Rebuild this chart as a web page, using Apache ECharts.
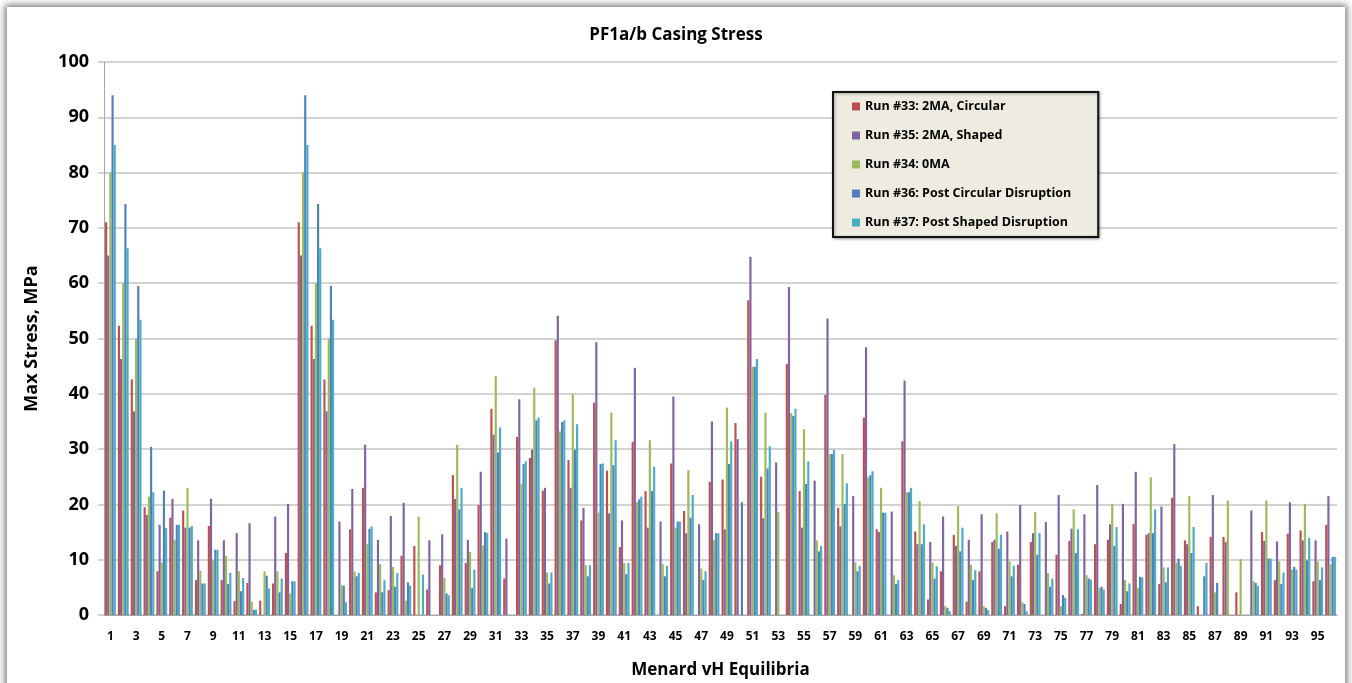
<!DOCTYPE html>
<html lang="en">
<head>
    <meta charset="UTF-8">
    <title>PF1a/b Casing Stress</title>
    <script src="https://cdn.jsdelivr.net/npm/echarts@6/dist/echarts.min.js"></script>
    <style>
        body { margin: 0; background: #fff; overflow: hidden; }
        #frame {
            position: absolute; left: 7px; top: 7px; width: 1338px; height: 690px;
            background: #fff; box-shadow: 0 0 7px 2px rgba(0,0,0,0.55);
        }
        #main { width: 1338px; height: 690px; }
    </style>
</head>
<body>
<div id="frame"><div id="main"></div></div>
<script type="text/javascript">
    var categories = ['1','2','3','4','5','6','7','8','9','10','11','12','13','14','15','16',
        '17','18','19','20','21','22','23','24','25','26','27','28','29','30','31','32',
        '33','34','35','36','37','38','39','40','41','42','43','44','45','46','47','48',
        '49','50','51','52','53','54','55','56','57','58','59','60','61','62','63','64',
        '65','66','67','68','69','70','71','72','73','74','75','76','77','78','79','80',
        '81','82','83','84','85','86','87','88','89','90','91','92','93','94','95','96'];

    var run33 = [71, 52.3, 42.6, 19.5, 7.9, 17.6, 18.9, 6.3, 16.1, 6.3, 2.5, 5.8, 2.6, 5.7, 11.2, 71,
        52.3, 42.6, 0, 15.5, 23, 4.1, 4.5, 10.7, 12.5, 4.6, 9, 25.3, 9.4, 19.9, 37.3, 6.6,
        32.2, 28.4, 22.5, 49.7, 28, 17.1, 38.4, 26.1, 12.3, 31.3, 22.4, 0, 27.4, 18.8, 0, 24.1,
        24.5, 34.7, 56.9, 25, 0, 45.4, 22.4, 0, 39.8, 19.4, 0, 35.7, 15.5, 0, 31.4, 15.1,
        2.8, 7.9, 14.5, 2.4, 7.9, 13.2, 1.6, 9.1, 13.2, 0, 10.9, 13.4, 0.2, 12.8, 13.6, 2,
        16.5, 14.5, 5.6, 21.2, 13.5, 1.6, 14.1, 14.1, 4.1, 0, 15, 6.3, 14.7, 15.3, 6.1, 16.3];

    var run35 = [65, 46.3, 36.8, 18.1, 16.3, 21, 15.8, 13.5, 21, 13.5, 14.8, 16.6, 0, 17.8, 20.1, 65,
        46.3, 36.8, 16.9, 22.8, 30.8, 13.6, 17.9, 20.3, 0, 13.5, 14.6, 21, 13.6, 25.9, 32.6, 13.8,
        39, 29.9, 23, 54.1, 23, 19.4, 49.3, 18.4, 17.1, 44.7, 15.8, 16.9, 39.5, 14.8, 16.4, 35,
        15.5, 31.8, 64.8, 17.5, 27.6, 59.3, 15.8, 24.3, 53.6, 16, 21.5, 48.4, 15, 18.7, 42.4, 12.8,
        13.2, 17.8, 12.5, 13.6, 18.2, 13.6, 15.1, 19.9, 14.8, 16.8, 21.7, 15.6, 18.2, 23.5, 16.4, 20.1,
        25.9, 14.8, 19.6, 30.9, 12.8, 0, 21.7, 13.2, 0, 18.9, 13.4, 13.3, 20.4, 13.5, 13.5, 21.5];

    var run34 = [80, 60, 50, 21.4, 9.5, 13.6, 23, 8, 9.9, 10.7, 7.9, 2.4, 7.9, 7.9, 3.9, 80,
        60, 50, 5.4, 7.9, 12.8, 9.2, 8.7, 2.6, 17.8, 0, 6.7, 30.8, 11.4, 12.6, 43.2, 0,
        23.7, 41.1, 7.7, 33.2, 39.9, 9, 18.5, 36.6, 9.4, 20.4, 31.6, 9.2, 15.8, 26.2, 8.4, 13.6,
        37.5, 0, 44.9, 36.6, 18.6, 36.5, 33.6, 13.5, 29.1, 29.1, 9.5, 24.9, 23, 7.2, 22.2, 20.6,
        9.5, 1.6, 19.7, 9.1, 1.6, 18.4, 9.7, 2.3, 18.6, 7.6, 1.6, 19.1, 7.2, 4.9, 20.1, 6.3,
        4.9, 24.9, 8.6, 9.5, 21.5, 0, 4.1, 20.7, 10.1, 6.1, 20.7, 9.7, 8.2, 20.1, 9.7, 9.2];

    var run36 = [94, 74.3, 59.5, 30.4, 22.5, 16.3, 15.8, 5.7, 11.8, 5.6, 4.3, 0.9, 7.1, 4.1, 6.1, 94,
        74.3, 59.5, 5.3, 7, 15.6, 4.1, 5.1, 5.9, 0, 0, 3.9, 19.1, 4.9, 15, 29.4, 0,
        27.3, 35.2, 5.7, 34.9, 29.9, 7, 27.3, 27.1, 7.4, 20.9, 22.4, 7, 16.9, 17.6, 6.3, 14.8,
        27.3, 20.4, 44.9, 26.5, 0, 36, 23.7, 11.5, 29.1, 20.1, 7.9, 25.3, 18.5, 5.6, 22.2, 12.8,
        6.6, 1.3, 11.5, 6.3, 1.3, 12, 7, 2, 10.9, 5.1, 3.6, 11.2, 6.6, 5.1, 12.5, 4.3,
        6.9, 14.8, 5.9, 10.2, 11.2, 7, 5.8, 0, 0, 5.8, 10.2, 5.6, 8.7, 9.9, 6.3, 10.5];

    var run37 = [85, 66.3, 53.4, 22.2, 15.7, 16.3, 16.1, 5.7, 11.8, 7.6, 6.7, 1, 4.8, 6.6, 6.1, 85,
        66.3, 53.4, 2.3, 7.6, 16, 6.3, 7.6, 5.3, 7.3, 0, 3.6, 23, 8.2, 14.8, 33.9, 0,
        27.8, 35.7, 7.7, 35.2, 34.5, 9, 27.4, 31.6, 9.4, 21.4, 26.8, 8.9, 16.9, 21.7, 7.9, 14.8,
        31.4, 0, 46.3, 30.5, 0, 37.3, 27.8, 12.5, 29.9, 23.8, 8.9, 26, 18.5, 6.3, 23, 16.4,
        8.8, 0.7, 15.8, 8.1, 0.9, 14.5, 8.9, 0.7, 14.8, 6.6, 3.1, 15.5, 6.4, 4.6, 15.9, 5.7,
        6.8, 19.1, 8.6, 8.9, 15.9, 9.4, 0, 0, 0, 5.3, 10.2, 7.7, 8.2, 13.9, 8.6, 10.5];

    var seriesNames = ['Run #33: 2MA, Circular', 'Run #35: 2MA, Shaped', 'Run #34: 0MA',
        'Run #36: Post Circular Disruption', 'Run #37: Post Shaped Disruption'];
    var seriesColors = ['#C0504D', '#8064A2', '#9BBB59', '#4F81BD', '#4BACC6'];
    var seriesData = [run33, run35, run34, run36, run37];

    var font = '"Open Sans", sans-serif';
    var myChart = echarts.init(document.getElementById('main'));

    var series = seriesNames.map(function (name, i) {
        return {
            name: name,
            type: 'bar',
            data: seriesData[i],
            barGap: '0%',
            barCategoryGap: '16%',
            itemStyle: { color: seriesColors[i] }
        };
    });

    myChart.setOption({
        animation: false,
        title: {
            text: 'PF1a/b Casing Stress',
            left: 'center',
            top: 15,
            textStyle: { fontFamily: font, fontSize: 17, fontWeight: 'bold', color: '#000' }
        },
        legend: {
            orient: 'vertical',
            left: 826,
            top: 85,
            icon: 'rect',
            itemWidth: 8,
            itemHeight: 8,
            itemGap: 16,
            padding: [8, 27, 8, 19],
            backgroundColor: '#eeece1',
            borderColor: '#111',
            borderWidth: 2,
            shadowBlur: 3,
            shadowColor: 'rgba(0,0,0,0.35)',
            shadowOffsetX: 1,
            shadowOffsetY: 1,
            textStyle: { fontFamily: font, fontSize: 12.5, fontWeight: 'bold', color: '#000' },
            data: seriesNames
        },
        grid: { left: 97, right: 8, top: 55, bottom: 82 },
        xAxis: {
            type: 'category',
            data: categories,
            name: 'Menard vH Equilibria',
            nameLocation: 'middle',
            nameGap: 47,
            nameTextStyle: { fontFamily: font, fontSize: 17, fontWeight: 'bold', color: '#000' },
            axisLine: { lineStyle: { color: '#a6a6a6', width: 1 } },
            axisTick: { show: false },
            axisLabel: {
                interval: 1,
                margin: 16,
                fontFamily: font, fontSize: 12, fontWeight: 'bold', color: '#000'
            }
        },
        yAxis: {
            type: 'value',
            min: 0,
            max: 100,
            interval: 10,
            name: 'Max Stress, MPa',
            nameLocation: 'middle',
            nameGap: 63,
            nameTextStyle: { fontFamily: font, fontSize: 18, fontWeight: 'bold', color: '#000' },
            axisLine: { show: true, lineStyle: { color: '#a6a6a6', width: 1 } },
            axisTick: { show: true, length: 6, lineStyle: { color: '#c4c4c4', width: 1.5 } },
            axisLabel: { margin: 15, fontFamily: font, fontSize: 18, fontWeight: 'bold', color: '#000' },
            splitLine: { lineStyle: { color: '#c4c4c4', width: 1.5 } }
        },
        series: series
    });
</script>
</body>
</html>
